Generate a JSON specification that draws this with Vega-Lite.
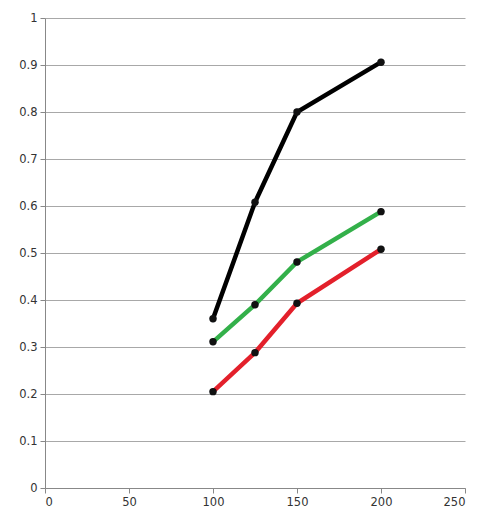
{
  "$schema": "https://vega.github.io/schema/vega-lite/v6.json",
  "width": 420,
  "height": 470,
  "autosize": {"type": "none"},
  "padding": {"left": 45, "top": 18, "right": 13, "bottom": 29},
  "background": "white",
  "config": {
    "view": {"stroke": null},
    "axis": {
      "labelFont": "DejaVu Sans",
      "labelFontSize": 11.5,
      "labelColor": "#333333",
      "domainColor": "#888888",
      "tickColor": "#888888",
      "gridColor": "#a8a8a8",
      "tickSize": 5,
      "title": null
    }
  },
  "data": {
    "values": [
      {"x": 100, "y": 0.36, "series": "A"},
      {"x": 125, "y": 0.608, "series": "A"},
      {"x": 150, "y": 0.80, "series": "A"},
      {"x": 200, "y": 0.906, "series": "A"},
      {"x": 100, "y": 0.311, "series": "B"},
      {"x": 125, "y": 0.39, "series": "B"},
      {"x": 150, "y": 0.481, "series": "B"},
      {"x": 200, "y": 0.588, "series": "B"},
      {"x": 100, "y": 0.205, "series": "C"},
      {"x": 125, "y": 0.288, "series": "C"},
      {"x": 150, "y": 0.393, "series": "C"},
      {"x": 200, "y": 0.508, "series": "C"}
    ]
  },
  "encoding": {
    "x": {
      "field": "x", "type": "quantitative",
      "scale": {"domain": [0, 250], "nice": false},
      "axis": {"values": [0, 50, 100, 150, 200, 250], "grid": false, "labelPadding": 3}
    },
    "y": {
      "field": "y", "type": "quantitative",
      "scale": {"domain": [0, 1], "nice": false},
      "axis": {"values": [0, 0.1, 0.2, 0.3, 0.4, 0.5, 0.6, 0.7, 0.8, 0.9, 1], "grid": true, "labelPadding": 3, "format": "~g"}
    }
  },
  "layer": [
    {
      "mark": {"type": "line", "strokeWidth": 4.5},
      "encoding": {
        "color": {
          "field": "series", "type": "nominal",
          "scale": {"domain": ["A", "B", "C"], "range": ["#000000", "#33b04a", "#e3202b"]},
          "legend": null
        }
      }
    },
    {
      "mark": {"type": "point", "shape": "diamond", "filled": true, "size": 55, "opacity": 0.8},
      "encoding": {"color": {"value": "#6d8fc4"}}
    },
    {
      "mark": {"type": "circle", "size": 55, "opacity": 1},
      "encoding": {"color": {"value": "#111111"}}
    }
  ]
}
